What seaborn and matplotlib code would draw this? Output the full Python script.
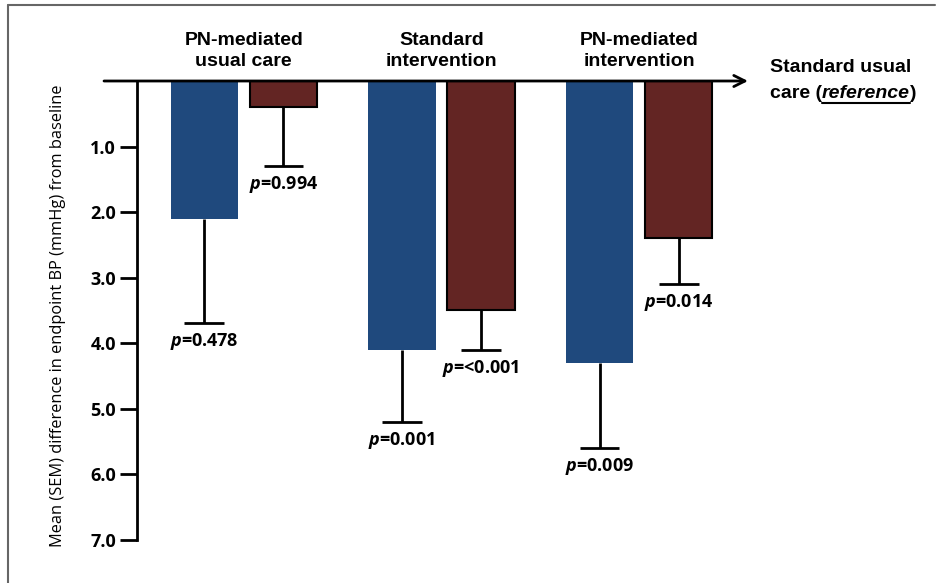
import pandas as pd
import matplotlib
matplotlib.use('Agg')
from matplotlib import pyplot as plt
from matplotlib.lines import Line2D
import seaborn as sns

sns.set_style('white')
plt.rcParams['font.family'] = ['Open Sans', 'DejaVu Sans']
plt.rcParams['mathtext.fontset'] = 'custom'
plt.rcParams['mathtext.it'] = 'Open Sans:italic:bold'
plt.rcParams['mathtext.rm'] = 'Open Sans:bold'
for k in ['text.color', 'axes.labelcolor', 'xtick.color', 'ytick.color']:
    plt.rcParams[k] = 'black'

groups = ['PN-mediated\nusual care', 'Standard\nintervention', 'PN-mediated\nintervention']
measures = ['Systolic', 'Diastolic']
blue_means = [2.1, 4.1, 4.3]
blue_sem = [1.6, 1.1, 1.3]
red_means = [0.4, 3.5, 2.4]
red_sem = [0.9, 0.6, 0.7]
blue_p = ['0.478', '0.001', '0.009']
red_p = ['0.994', '<0.001', '0.014']
y_ticks = [1, 2, 3, 4, 5, 6, 7]

blue = '#1F497D'
red = '#632523'
head_font = ['Liberation Sans Narrow', 'Liberation Sans', 'DejaVu Sans']

df = pd.DataFrame({
    'group': groups * 2,
    'measure': [measures[0]] * 3 + [measures[1]] * 3,
    'diff': blue_means + red_means,
})

W, H = 939, 583
fig = plt.figure(figsize=(W / 100, H / 100), dpi=100)
ax = fig.add_axes([137 / W, 1 - 543 / H, (748 - 137) / W, (543 - 81) / H])

sns.barplot(data=df, x='group', y='diff', hue='measure', hue_order=measures,
            palette=[blue, red], width=0.8, gap=0.15, errorbar=None,
            legend=False, saturation=1, ax=ax)

for bar in ax.containers[0]:
    bar.set_edgecolor(blue)
    bar.set_linewidth(0)
for bar in ax.containers[1]:
    bar.set_edgecolor('black')
    bar.set_linewidth(1.5)

# one-sided SEM whiskers + p-values
for cont, sems, ps in [(ax.containers[0], blue_sem, blue_p),
                       (ax.containers[1], red_sem, red_p)]:
    for bar, s, p in zip(cont, sems, ps):
        xc = bar.get_x() + bar.get_width() / 2
        top = bar.get_y() + bar.get_height()
        ax.vlines(xc, top, top + s, color='black', lw=2, zorder=1)
        ax.hlines(top + s, xc - 0.1, xc + 0.1, color='black', lw=2, zorder=1)
        ax.text(xc, top + s + 0.28, r'$p$=' + p, ha='center', va='center',
                fontsize=13, fontweight='bold', clip_on=False)

ax.set_xlim(-0.54, 2.55)
ax.set_ylim(7.05, 0)
ax.set_yticks(y_ticks)
ax.set_yticklabels([f'{v:.1f}' for v in y_ticks], fontweight='bold', fontsize=13)
ax.tick_params(axis='y', length=12, width=2, pad=3, left=True, color='black')
ax.set_xticks([])
ax.set_xlabel('')
ax.set_ylabel('')
for side in ['top', 'right', 'bottom']:
    ax.spines[side].set_visible(False)
ax.spines['left'].set_linewidth(2)
ax.spines['left'].set_color('black')
ax.spines['left'].set_bounds(0, 7)

# horizontal zero line with arrow
ax.annotate('', xy=(1.0, 0), xycoords=('axes fraction', 'data'),
            xytext=(-0.054, 0), textcoords=('axes fraction', 'data'),
            arrowprops=dict(arrowstyle='->', lw=2, color='black', mutation_scale=20,
                            shrinkA=0, shrinkB=0))

for i, g in enumerate(groups):
    ax.text(i, -0.46, g, ha='center', va='center', fontsize=14, fontweight='bold',
            family=head_font, linespacing=1.35, clip_on=False)

fig.text(58 / W, 1 - 316 / H, 'Mean (SEM) difference in endpoint BP (mmHg) from baseline',
         rotation=90, ha='center', va='center', fontsize=11.8)

# reference label
fig.text(770 / W, 1 - 68 / H, 'Standard usual', ha='left', va='center',
         fontsize=14, fontweight='bold', family=head_font)
t1 = fig.text(770 / W, 1 - 93 / H, 'care (', ha='left', va='center',
              fontsize=14, fontweight='bold', family=head_font)
fig.canvas.draw()
r = fig.canvas.get_renderer()
b1 = t1.get_window_extent(r)
t2 = fig.text(b1.x1 / W, 1 - 93 / H, 'reference', ha='left', va='center',
              fontsize=14, fontweight='bold', style='italic', family=head_font)
fig.canvas.draw()
b2 = t2.get_window_extent(r)
fig.text(b2.x1 / W, 1 - 93 / H, ')', ha='left', va='center',
         fontsize=14, fontweight='bold', family=head_font)
fig.add_artist(Line2D([b2.x0 / W, b2.x1 / W], [(b2.y0 - 1) / H] * 2,
                      color='black', lw=1.5, transform=fig.transFigure))

# outer frame
fig.add_artist(Line2D([8 / W, 8 / W], [0, 1 - 5 / H], color='#666666', lw=1.5,
                      transform=fig.transFigure))
fig.add_artist(Line2D([8 / W, 935 / W], [1 - 5 / H, 1 - 5 / H], color='#666666', lw=1.5,
                      transform=fig.transFigure))

fig.savefig('out.png', dpi=100)
